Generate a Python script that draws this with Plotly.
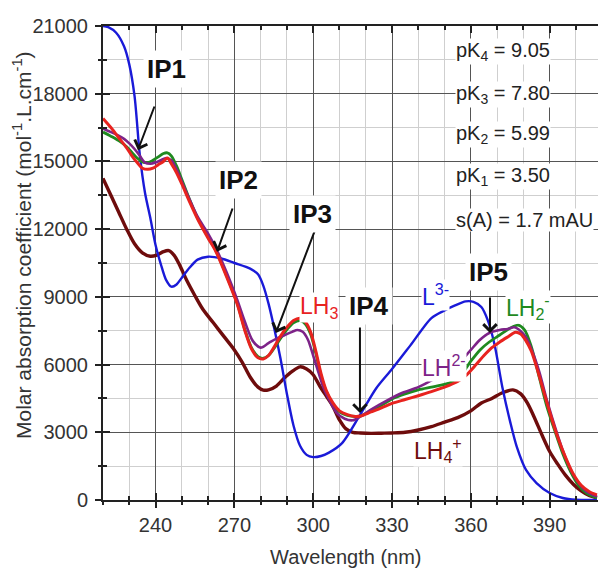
import plotly.graph_objects as go

# ---- spectra: wavelength (nm) and molar absorption coefficient (mol-1.L.cm-1) ----
wl_L = [220, 222, 225, 228, 230, 232, 234, 236, 238, 240, 242, 244, 246, 248, 250, 253, 256, 260,
        265, 270, 276, 279, 281, 283, 285, 287.5, 290, 292.5, 295, 297.5, 300, 303, 306, 311, 318,
        324, 330, 337, 345, 350, 354, 358, 361, 364, 366.5, 369, 372, 375, 377.5, 381, 385, 390,
        395, 400, 408]
eps_L = [21000, 20950, 20700, 20100, 19300, 17900, 15300, 13600, 12500, 11300, 10450, 9750, 9450,
         9550, 9850, 10300, 10650, 10780, 10700, 10500, 10250, 10000, 9500, 8700, 7700, 6300, 4700,
         3300, 2400, 2000, 1900, 1950, 2100, 2520, 3800, 4950, 5800, 6850, 8060, 8400, 8620, 8800,
         8780, 8550, 7950, 6900, 5000, 3450, 2350, 1330, 750, 310, 90, 10, 0]

wl_LH3 = [220, 223, 226, 229, 231, 233, 235, 237, 239, 241, 243, 244.5, 246, 248, 250, 253, 256,
          260, 263, 267, 271, 274, 276.5, 279, 281, 283, 285, 287.5, 290, 292.5, 295, 297, 299,
          301, 303, 305, 307.5, 310, 313, 316, 318, 322, 326, 330, 335, 340, 345, 350, 355, 358,
          362, 365, 368, 371, 374, 377, 379, 381, 383, 385, 387, 390, 393, 396, 399, 402, 405, 408]
eps_LH3 = [16900, 16500, 16050, 15600, 15250, 14950, 14700, 14650, 14700, 14850, 15000, 15150,
           14900, 14500, 14000, 13200, 12450, 11600, 11000, 9900, 8700, 7500, 6700, 6300, 6250,
           6400, 6750, 7250, 7650, 7950, 8050, 7900, 7450, 6600, 5600, 4850, 4300, 3950, 3780,
           3700, 3720, 3900, 4080, 4280, 4450, 4620, 4800, 5000, 5250, 5500, 6000, 6400, 6750,
           7000, 7220, 7430, 7350, 7050, 6600, 5900, 5100, 3900, 2800, 1900, 1150, 650, 380, 230]

wl_LH2 = [220, 223, 226, 229, 231, 233, 235, 237, 239, 241, 243, 244.5, 246, 248, 250, 253, 256,
          260, 263, 267, 271, 274, 276.5, 279, 281, 283, 285, 287.5, 290, 292.5, 295, 297, 299,
          301, 303, 305, 307.5, 310, 313, 316, 318, 322, 326, 330, 335, 340, 345, 350, 353, 356,
          360, 363.5, 367, 371, 375, 378, 380.5, 383, 386, 389, 392, 395, 398, 401, 404, 408]
eps_LH2 = [16300, 16120, 15920, 15650, 15400, 15150, 14980, 14950, 15050, 15200, 15350, 15380,
           15250, 14800, 14200, 13300, 12500, 11650, 11050, 9950, 8750, 7550, 6750, 6350, 6280,
           6400, 6700, 7150, 7550, 7850, 7950, 7800, 7350, 6500, 5500, 4800, 4250, 3900, 3750,
           3700, 3720, 3950, 4200, 4480, 4700, 4880, 5000, 5120, 5250, 5500, 6150, 6650, 7000,
           7310, 7620, 7750, 7530, 6800, 5450, 4120, 3050, 2050, 1250, 650, 310, 90]

wl_LH = [220, 222, 225, 228, 230, 232, 234, 236, 238, 240, 242, 244, 246, 248, 250, 253, 256, 260,
         263, 267, 271, 274, 277, 280, 283, 286, 289, 292, 294, 296, 298, 300, 302, 304, 306.5,
         309, 312, 315, 318, 322, 328, 334, 340, 345, 350, 355, 360, 363.5, 367, 371, 374, 376.5,
         379, 381, 383, 386, 389, 392, 395, 398, 401, 404, 408]
eps_LH = [16450, 16350, 16200, 16000, 15800, 15550, 15250, 14950, 14900, 14950, 15050, 15150,
          15050, 14650, 14100, 13300, 12550, 11800, 11150, 10100, 8900, 7900, 7050, 6750, 6950,
          7150, 7300, 7450, 7530, 7450, 7100, 6400, 5650, 4950, 4350, 3850, 3600, 3530, 3700,
          4000, 4400, 4750, 5000, 5300, 5600, 6000, 6650, 7100, 7400, 7530, 7580, 7650, 7480,
          7200, 6700, 5700, 4400, 3250, 2200, 1350, 750, 380, 150]

wl_LH4 = [220, 223, 226, 229, 232, 235, 238, 240.5, 243, 245, 247, 249, 252, 255, 258, 262, 266,
          270, 273, 276, 279, 281, 283, 286, 289, 292, 295, 297.5, 300, 302.5, 305, 307.5, 310,
          312.5, 315, 318, 322, 326, 330, 335, 340, 345, 350, 355, 360, 364, 368, 372, 376, 379,
          381.5, 384, 387, 390, 393, 396, 399, 402, 405, 408]
eps_LH4 = [14250, 13500, 12750, 12000, 11350, 10950, 10800, 10850, 11000, 11050, 10850, 10450,
           9700, 9050, 8450, 7850, 7250, 6650, 6100, 5450, 5000, 4870, 4880, 5050, 5400, 5700,
           5900, 5800, 5550, 5050, 4600, 4150, 3550, 3150, 3000, 2970, 2950, 2960, 2970, 3000,
           3100, 3250, 3450, 3650, 3950, 4300, 4500, 4750, 4880, 4700, 4300, 3700, 2900, 2150,
           1600, 1100, 700, 400, 200, 100]

# ---- isosbestic points: arrow tip, arrow tail and label position ----
ip_names = ["IP1", "IP2", "IP3", "IP4", "IP5"]
ip_wl = [233.3, 263.4, 285.8, 317.8, 367.3]
ip_eps = [15500, 11000, 7400, 3850, 7400]
ip_tail_wl = [239.8, 269.5, 300.7, 317.8, 367.3]
ip_tail_eps = [17500, 12980, 11960, 7710, 9040]
ip_label_wl = [244.0, 271.4, 299.9, 321.2, 366.9]
ip_label_eps = [19110, 14180, 12670, 8590, 10080]

# ---- species labels ----
sp_text = ["LH<sub>3</sub>", "L<sup>3-</sup>", "LH<sub>2</sub><sup>-</sup>",
           "LH<sup>2-</sup>", "LH<sub>4</sub><sup>+</sup>"]
sp_wl = [302.2, 346.7, 381.9, 349.8, 347.5]
sp_eps = [8510, 9080, 8550, 5940, 2215]
sp_color = ["#e8231f", "#1a1ad8", "#1f8a1f", "#7d2388", "#6e0c0c"]

# ---- fitted constants ----
pk_lines = ["pK<sub>4</sub> = 9.05", "pK<sub>3</sub> = 7.80", "pK<sub>2</sub> = 5.99",
            "pK<sub>1</sub> = 3.50", "s(A) = 1.7 mAU"]
pk_eps = [19850, 17950, 16200, 14350, 12400]
pk_wl = 353.9

FONT = "Liberation Sans, Arial, sans-serif"

fig = go.Figure()

series = [
    (wl_LH4, eps_LH4, "#6e0c0c", 3.4),
    (wl_L, eps_L, "#1a1ad8", 2.4),
    (wl_LH2, eps_LH2, "#1f8a1f", 2.8),
    (wl_LH, eps_LH, "#7d2388", 2.6),
    (wl_LH3, eps_LH3, "#e8231f", 3.0),
]
for x, y, c, w in series:
    fig.add_trace(go.Scatter(x=x, y=y, mode="lines",
                             line=dict(color=c, width=w, shape="spline", smoothing=0.8),
                             showlegend=False, hoverinfo="skip"))

# empty trace so the outer-tick overlay axes get drawn
fig.add_trace(go.Scatter(x=[], y=[], xaxis="x2", yaxis="y2", showlegend=False))

annotations = []
for name, x, y, tx, ty, lx, ly in zip(ip_names, ip_wl, ip_eps, ip_tail_wl, ip_tail_eps,
                                       ip_label_wl, ip_label_eps):
    annotations.append(dict(x=x, y=y, ax=tx, ay=ty, xref="x", yref="y", axref="x", ayref="y",
                            text="", showarrow=True, arrowhead=4, arrowsize=1.3,
                            arrowwidth=2, arrowcolor="#111"))
    annotations.append(dict(x=lx, y=ly, xref="x", yref="y", text="<b>%s</b>" % name,
                            showarrow=False, bgcolor="white", borderpad=3,
                            xanchor="center", yanchor="middle",
                            font=dict(family=FONT, size=26, color="#111")))

for t, x, y, c in zip(sp_text, sp_wl, sp_eps, sp_color):
    annotations.append(dict(x=x, y=y, xref="x", yref="y", text=t, showarrow=False,
                            bgcolor="white", borderpad=0, xanchor="center", yanchor="middle",
                            font=dict(family=FONT, size=23, color=c)))

for t, y in zip(pk_lines, pk_eps):
    annotations.append(dict(x=pk_wl, y=y, xref="x", yref="y", text=t, showarrow=False,
                            xanchor="left", yanchor="middle", bgcolor="white", borderpad=0,
                            font=dict(family=FONT, size=20, color="#222")))

annotations.append(dict(x=-0.1636, y=0.538, xref="paper", yref="paper", textangle=-90,
                        xanchor="center", yanchor="middle",
                        text="Molar absorption coefficient (mol<sup>-1</sup>.L.cm<sup>-1</sup>)",
                        showarrow=False, font=dict(family=FONT, size=21, color="#333")))
annotations.append(dict(x=0.491, y=-0.12, xref="paper", yref="paper", text="Wavelength (nm)",
                        xanchor="center", yanchor="middle",
                        showarrow=False, font=dict(family=FONT, size=20, color="#333")))

x_range = [220, 408.4]
y_range = [0, 21000]

fig.update_layout(
    width=598, height=568,
    margin=dict(l=103, r=0, t=26, b=68),
    paper_bgcolor="white", plot_bgcolor="white",
    annotations=annotations,
    xaxis=dict(range=x_range, tick0=240, dtick=30, ticks="inside", ticklen=7, tickwidth=2,
               tickcolor="#222", showline=True, linewidth=2, linecolor="#222", mirror="ticks",
               showgrid=True, gridcolor="#555", gridwidth=1.3, zeroline=False,
               ticklabelstandoff=6,
               tickfont=dict(family=FONT, size=20, color="#333"),
               minor=dict(tick0=220, dtick=10, ticks="inside", ticklen=4, tickwidth=1.5,
                          tickcolor="#222", showgrid=True, gridcolor="#cfcfcf", gridwidth=1)),
    xaxis2=dict(range=x_range, overlaying="x", anchor="y", side="bottom", tick0=240, dtick=30,
                ticks="outside", ticklen=7, tickwidth=2, tickcolor="#222",
                showticklabels=False, showgrid=False, showline=False, zeroline=False,
                minor=dict(tick0=220, dtick=10, ticks="outside", ticklen=4, tickwidth=1.5,
                           tickcolor="#222", showgrid=False)),
    yaxis=dict(range=y_range, tick0=0, dtick=3000, ticks="inside", ticklen=7, tickwidth=2,
               tickcolor="#222", showline=True, linewidth=2, linecolor="#222", mirror=False,
               showgrid=True, gridcolor="#555", gridwidth=1.3, zeroline=False, tickformat="d",
               ticklabelstandoff=9,
               tickfont=dict(family=FONT, size=20, color="#333"),
               minor=dict(tick0=0, dtick=1500, ticks="inside", ticklen=4, tickwidth=1.5,
                          tickcolor="#222", showgrid=True, gridcolor="#cfcfcf", gridwidth=1)),
    yaxis2=dict(range=y_range, overlaying="y", anchor="x", side="left", tick0=0, dtick=3000,
                ticks="outside", ticklen=7, tickwidth=2, tickcolor="#222",
                showticklabels=False, showgrid=False, showline=False, zeroline=False,
                minor=dict(tick0=0, dtick=1500, ticks="outside", ticklen=4, tickwidth=1.5,
                           tickcolor="#222", showgrid=False)),
)

fig.write_html("out.html")
